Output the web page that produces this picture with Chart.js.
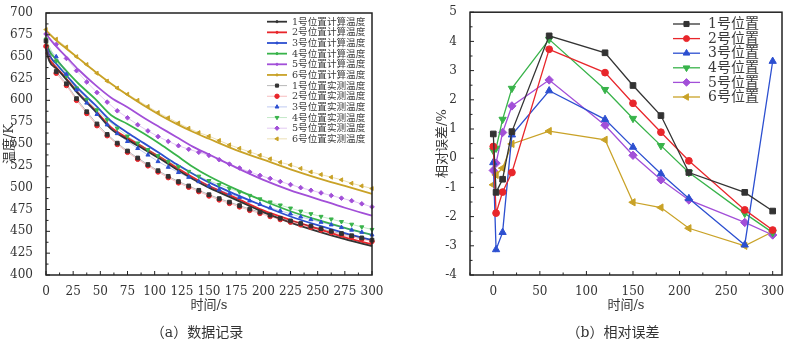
<!DOCTYPE html>
<html lang="zh">
<head>
<meta charset="UTF-8" />
<title>温度与相对误差</title>
<script src="https://cdn.jsdelivr.net/npm/chart.js"></script>
<style>
  html, body { margin: 0; padding: 0; background: #fff; overflow: hidden; }
  #wrap { position: relative; width: 800px; height: 342px; }
  canvas { position: absolute; top: 0; }
  .cap {
    position: absolute; top: 322px; height: 20px; line-height: 20px;
    text-align: center; font-size: 14px; color: #333;
    font-family: 'DejaVu Serif', 'Noto Sans CJK SC', serif;
  }
</style>
</head>
<body>
<div id="wrap">
  <canvas id="chartA" width="400" height="342" style="left:0"></canvas>
  <canvas id="chartB" width="400" height="342" style="left:400px"></canvas>
  <div class="cap" style="left:0;width:394px">（a）数据记录</div>
  <div class="cap" style="left:426px;width:374px">（b）相对误差</div>
</div>

<script>
// ---- (a) temperature data ----
const CALC_T = [0, 3, 10, 20, 30, 45, 60, 75, 90, 105, 120, 135, 150, 175, 200, 225, 250, 275, 300];
const CALC_1 = [660, 645, 636, 622, 607, 588, 567, 555, 544, 533, 521, 510, 500, 486, 472, 460, 450, 441, 433];
const CALC_2 = [655, 647, 637, 623, 608, 589, 569, 557, 546, 535, 523, 512, 502, 488, 474, 463, 453, 443, 435];
const CALC_3 = [664, 652, 641, 627, 613, 595, 576, 563, 551, 539, 527, 516, 506, 492, 479, 467, 457, 448, 440];
const CALC_4 = [668, 657, 646, 632, 619, 602, 583, 573, 562, 550, 537, 524, 513, 498, 485, 473, 463, 454, 446];
const CALC_5 = [677, 671, 661, 648, 635, 618, 603, 592, 580, 569, 558, 547, 538, 523, 509, 497, 487, 477, 468];
const CALC_6 = [680, 676, 668, 658, 648, 633, 619, 606, 594, 583, 573, 564, 556, 543, 532, 521, 511, 502, 493];

const MEAS_T = [0, 9.4, 18.8, 28.1, 37.5, 46.9, 56.3, 65.6, 75, 84.4, 93.8, 103.1, 112.5, 121.9, 131.3, 140.6,
                150, 159.4, 168.8, 178.1, 187.5, 196.9, 206.3, 215.6, 225, 234.4, 243.8, 253.1, 262.5, 271.9, 281.3, 290.6, 300];
const MEAS_1 = [668, 633, 619, 602, 587, 573, 561, 551, 542, 534, 526.5, 519.5, 513, 507, 502, 497, 492, 487.5, 483.5, 479.5,
                475.5, 472, 468.5, 465, 462, 459, 456, 453, 450, 447.5, 445, 442.5, 440];
const MEAS_2 = [662, 631, 617, 600, 585, 571, 559.5, 549.5, 540.5, 532.5, 525, 518, 511.5, 505.5, 500.5, 495.5, 490.5, 486, 482, 478,
                474, 470.5, 467, 463.5, 460.5, 457.5, 454.5, 451.5, 448.5, 446, 443.5, 441, 438.5];
const MEAS_3 = [662, 650, 630, 612, 597, 584, 572, 562, 553, 545, 537.5, 530, 523.5, 517.5, 512, 507, 502, 497.5, 493, 489,
                485, 481, 477, 473.5, 470, 466.5, 463.5, 460.5, 457.5, 454.5, 451.5, 449, 446];
const MEAS_4 = [670, 645, 628, 614, 601, 589, 578, 568, 559, 551, 543.5, 536.5, 530, 524, 518.5, 513, 508, 503.5, 499, 495,
                491, 487, 483.5, 480, 476.5, 473, 470, 467, 464, 461, 458, 455, 452];
const MEAS_5 = [676, 664, 648, 634, 621, 609, 598, 588, 580, 572, 565, 558.5, 553, 548, 544, 540.5, 537, 532, 527, 522.5,
                518, 514, 510.5, 507, 503.5, 500, 497, 494, 491, 488, 485, 481.5, 478];
const MEAS_6 = [681, 670, 661, 650, 641, 631, 622, 614, 607, 600, 593, 586, 580, 574, 568, 563, 559, 554, 549, 545,
                541, 537, 533, 529, 526, 522, 518, 515, 512, 509, 505, 502, 499];

const CALC_LABELS = ['1号位置计算温度', '2号位置计算温度', '3号位置计算温度', '4号位置计算温度', '5号位置计算温度', '6号位置计算温度'];
const MEAS_LABELS = ['1号位置实测温度', '2号位置实测温度', '3号位置实测温度', '4号位置实测温度', '5号位置实测温度', '6号位置实测温度'];
const X_TICKS_A = [0, 25, 50, 75, 100, 125, 150, 175, 200, 225, 250, 275, 300];
const Y_TICKS_A = [400, 425, 450, 475, 500, 525, 550, 575, 600, 625, 650, 675, 700];

// ---- (b) relative error data ----
const ERR_T = [0, 3, 10, 20, 60, 120, 150, 180, 210, 270, 300];
const ERR_1 = [0.83, -1.17, -0.72, 0.91, 4.19, 3.61, 2.49, 1.46, -0.49, -1.17, -1.81];
const ERR_2 = [0.40, -1.88, -1.16, -0.49, 3.73, 2.93, 1.88, 0.89, -0.09, -1.77, -2.46];
const ERR_3 = [-0.15, -3.13, -2.54, 0.80, 2.31, 1.33, 0.38, -0.53, -1.38, -2.97, 3.32];
const ERR_4 = [0.26, 0.34, 1.33, 2.39, 4.07, 2.35, 1.36, 0.43, -0.49, -1.89, -2.55];
const ERR_5 = [-0.42, -0.17, 0.88, 1.79, 2.68, 1.13, 0.10, -0.74, -1.43, -2.20, -2.63];
const ERR_6 = [-0.91, -0.57, -0.34, 0.49, 0.93, 0.63, -1.51, -1.69, -2.40, -3.00, -2.52];
const ERR_LABELS = ['1号位置', '2号位置', '3号位置', '4号位置', '5号位置', '6号位置'];
const X_TICKS_B = [0, 50, 100, 150, 200, 250, 300];
const Y_TICKS_B = [-4, -3, -2, -1, 0, 1, 2, 3, 4, 5];

// styles
const COL   = ['#333333', '#e8262b', '#2c4fd0', '#38b34a', '#a24fd8', '#c9a227'];
const FAINT = ['rgba(51,51,51,0.35)', 'rgba(232,38,43,0.3)', 'rgba(44,79,208,0.3)',
               'rgba(56,179,74,0.3)', 'rgba(162,79,216,0.3)', 'rgba(201,162,39,0.35)'];
const SHAPE = ['rect', 'circle', 'triangle', 'triangle', 'rectRot', 'triangle'];
const ROT   = [0, 0, 0, 180, 0, 270];
const FONT  = "'DejaVu Serif', 'Noto Sans CJK SC', serif";

Chart.defaults.font.family = FONT;
Chart.defaults.color = '#333';

const pts = (xs, ys) => xs.map((x, i) => ({ x: x, y: ys[i] }));

// frame + inward major/minor ticks
const frameTicks = {
  id: 'frameTicks',
  afterDraw(chart) {
    const { ctx, chartArea: a, scales: { x, y } } = chart;
    ctx.save();
    ctx.strokeStyle = '#222';
    ctx.lineWidth = 1.5;
    ctx.strokeRect(a.left, a.top, a.right - a.left, a.bottom - a.top);
    ctx.lineWidth = 1;
    const seg = (x1, y1, x2, y2) => { ctx.beginPath(); ctx.moveTo(x1, y1); ctx.lineTo(x2, y2); ctx.stroke(); };
    const doAxis = (sc, horiz) => {
      const vals = sc.ticks.map(t => t.value);
      const step = vals[1] - vals[0];
      vals.forEach(v => {
        const p = sc.getPixelForValue(v);
        if (horiz) seg(p, a.bottom, p, a.bottom - 4); else seg(a.left, p, a.left + 4, p);
      });
      for (let v = vals[0] - step / 2; v <= sc.max; v += step) {
        if (v < sc.min) continue;
        const p = sc.getPixelForValue(v);
        if (horiz) seg(p, a.bottom, p, a.bottom - 2.5); else seg(a.left, p, a.left + 2.5, p);
      }
    };
    doAxis(x, true);
    doAxis(y, false);
    ctx.restore();
  }
};

// legend drawn inside the plot box
const innerLegend = {
  id: 'innerLegend',
  afterDraw(chart, args, o) {
    const ctx = chart.ctx;
    ctx.save();
    ctx.font = o.fontSize + 'px ' + FONT;
    ctx.textBaseline = 'middle';
    o.items.forEach((it, k) => {
      const ds = chart.data.datasets[it.index];
      const y = o.y + k * o.dy;
      ctx.strokeStyle = ds.borderColor;
      ctx.lineWidth = ds.borderWidth;
      ctx.beginPath(); ctx.moveTo(o.x, y); ctx.lineTo(o.x + o.len, y); ctx.stroke();
      ctx.fillStyle = COL[it.c];
      ctx.strokeStyle = COL[it.c];
      ctx.lineWidth = 1;
      Chart.helpers.drawPoint(ctx, { pointStyle: it.shape, rotation: it.rot || 0, radius: it.r, borderWidth: 1 },
        o.x + o.len / 2, y);
      ctx.fillStyle = '#3a3a3a';
      ctx.fillText(ds.label, o.x + o.len + o.gap, y + 0.5);
    });
    ctx.restore();
  }
};

function axes(xmin, xmax, xt, ymin, ymax, yt, yw, xTitle, yTitle) {
  return {
    x: {
      type: 'linear', min: xmin, max: xmax,
      afterBuildTicks: s => { s.ticks = xt.map(v => ({ value: v })); },
      afterFit: s => { s.height = 38; },
      grid: { display: false }, border: { display: false },
      ticks: { padding: 2, autoSkip: false, maxRotation: 0, color: '#333', font: { size: 12 } },
      title: { display: true, text: xTitle, color: '#333', font: { size: 13 }, padding: 0 }
    },
    y: {
      type: 'linear', min: ymin, max: ymax,
      afterBuildTicks: s => { s.ticks = yt.map(v => ({ value: v })); },
      afterFit: s => { s.width = yw; },
      grid: { display: false }, border: { display: false },
      ticks: { padding: 5, autoSkip: false, color: '#333', font: { size: 12 } },
      title: { display: true, text: yTitle, color: '#333', font: { size: 13 }, padding: 0 }
    }
  };
}

// ---- chart (a) ----
const CALC = [CALC_1, CALC_2, CALC_3, CALC_4, CALC_5, CALC_6];
const MEAS = [MEAS_1, MEAS_2, MEAS_3, MEAS_4, MEAS_5, MEAS_6];
const dsA = [];
CALC.forEach((arr, i) => dsA.push({
  label: CALC_LABELS[i], data: pts(CALC_T, arr), showLine: true,
  borderColor: COL[i], borderWidth: 1.8, pointRadius: 0,
  cubicInterpolationMode: 'monotone', order: 1, clip: false
}));
MEAS.forEach((arr, i) => dsA.push({
  label: MEAS_LABELS[i], data: pts(MEAS_T, arr), showLine: true,
  borderColor: FAINT[i], borderWidth: 1,
  pointStyle: SHAPE[i], rotation: ROT[i], pointRadius: i === 0 ? 2.6 : 2.3,
  pointBackgroundColor: COL[i], pointBorderColor: COL[i], pointBorderWidth: 1,
  order: 0, clip: false
}));

const legendA = [];
for (let i = 0; i < 6; i++) legendA.push({ index: i, c: i, shape: 'circle', r: 1.1 });
for (let i = 0; i < 6; i++) legendA.push({ index: 6 + i, c: i, shape: SHAPE[i], rot: ROT[i], r: 2.2 });

new Chart(document.getElementById('chartA'), {
  type: 'scatter',
  data: { datasets: dsA },
  options: {
    responsive: false, animation: false, events: [],
    layout: { padding: { top: 13, right: 28, bottom: 29, left: 2 } },
    scales: axes(0, 300, X_TICKS_A, 400, 700, Y_TICKS_A, 44, '时间/s', '温度/K'),
    plugins: {
      legend: { display: false }, tooltip: { enabled: false },
      innerLegend: { items: legendA, x: 267, y: 21.7, dy: 10.65, len: 20, gap: 5, fontSize: 9.6 }
    }
  },
  plugins: [frameTicks, innerLegend]
});

// ---- chart (b) ----
const ERR = [ERR_1, ERR_2, ERR_3, ERR_4, ERR_5, ERR_6];
const RAD_B = [4, 3.4, 4.2, 4.2, 4.2, 4.2];
const dsB = ERR.map((arr, i) => ({
  label: ERR_LABELS[i], data: pts(ERR_T, arr), showLine: true,
  borderColor: COL[i], borderWidth: 1.3, tension: 0,
  pointStyle: SHAPE[i], rotation: ROT[i], pointRadius: RAD_B[i],
  pointBackgroundColor: COL[i], pointBorderColor: COL[i], pointBorderWidth: 1,
  clip: false
}));
const legendB = ERR.map((arr, i) => ({ index: i, c: i, shape: SHAPE[i], rot: ROT[i], r: RAD_B[i] - 0.4 }));

new Chart(document.getElementById('chartB'), {
  type: 'scatter',
  data: { datasets: dsB },
  options: {
    responsive: false, animation: false, events: [],
    layout: { padding: { top: 12, right: 18, bottom: 29, left: 35 } },
    scales: axes(-25, 310, X_TICKS_B, -4, 5, Y_TICKS_B, 35, '时间/s', '相对误差/%'),
    plugins: {
      legend: { display: false }, tooltip: { enabled: false },
      innerLegend: { items: legendB, x: 273, y: 24, dy: 14.6, len: 27, gap: 8, fontSize: 14 }
    }
  },
  plugins: [frameTicks, innerLegend]
});
</script>
</body>
</html>
